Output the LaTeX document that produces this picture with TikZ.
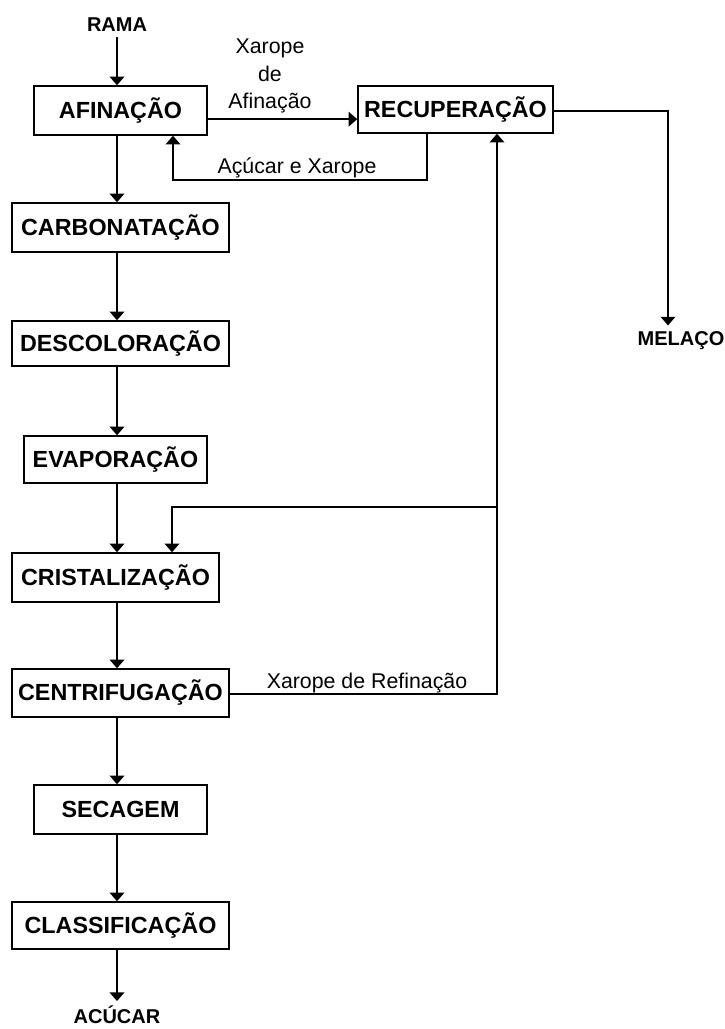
\documentclass[tikz,border=0pt]{standalone}
\usepackage{fontspec}
\setmainfont{Liberation Sans}
\usepackage{tikz}
\usetikzlibrary{arrows.meta,positioning,calc}
\tikzstyle{etapa} = [draw, line width=1.1pt, inner sep=0pt, font=\bfseries\fontsize{17.5}{20}\selectfont]
\tikzstyle{marco} = [inner sep=4pt, font=\bfseries\fontsize{15}{18}\selectfont]
\tikzstyle{rotulo} = [inner sep=0pt, font=\fontsize{16}{20.5}\selectfont]
\tikzstyle{line} = [draw, line width=1.1pt, -{Triangle[width=11pt,length=6.5pt]}]

\begin{document}
\begin{tikzpicture}[x=0.75pt,y=-0.75pt]
	\useasboundingbox (0,0) rectangle (725,1029);
	% Steps:
	\node[etapa, minimum width=129.75pt, minimum height=36.75pt] (afin) at (120.5,110.5) {AFINAÇÃO};
	\node[etapa, minimum width=146.25pt, minimum height=35.25pt] (recup) at (455.5,109.5) {RECUPERAÇÃO};
	\node[etapa, minimum width=162.75pt, minimum height=36.75pt] (carb) at (120.5,227.5) {CARBONATAÇÃO};
	\node[etapa, minimum width=162.75pt, minimum height=33.75pt] (desc) at (120.5,343.5) {DESCOLORAÇÃO};
	\node[etapa, minimum width=137.25pt, minimum height=35.25pt] (evap) at (115.5,459.5) {EVAPORAÇÃO};
	\node[etapa, minimum width=155.25pt, minimum height=36.75pt] (crist) at (115.5,577.5) {CRISTALIZAÇÃO};
	\node[etapa, minimum width=162.75pt, minimum height=36pt] (centr) at (120.5,693) {CENTRIFUGAÇÃO};
	\node[etapa, minimum width=129.75pt, minimum height=36.75pt] (sec) at (120.5,809.5) {SECAGEM};
	\node[etapa, minimum width=162.75pt, minimum height=35.25pt] (class) at (120.5,925.5) {CLASSIFICAÇÃO};
	% In and out:
	\node[marco, anchor=base] (rama) at (117,31) {RAMA};
	\node[marco, anchor=base] (melaco) at (681,345) {MELAÇO};
	\node[marco, anchor=base, inner sep=3pt] (acucar) at (117,1023) {ACÚCAR};
	% Main line:
	\draw[line] (rama.south) -- (afin.north -| rama);
	\draw[line] (afin.south -| rama) -- (carb.north -| rama);
	\draw[line] (carb.south -| rama) -- (desc.north -| rama);
	\draw[line] (desc.south -| rama) -- (evap.north -| rama);
	\draw[line] (evap.south -| rama) -- (crist.north -| rama);
	\draw[line] (crist.south -| rama) -- (centr.north -| rama);
	\draw[line] (centr.south -| rama) -- (sec.north -| rama);
	\draw[line] (sec.south -| rama) -- (class.north -| rama);
	\draw[line] (class.south -| rama) -- (acucar.north);
	% Syrups:
	\coordinate (ret) at (427,180);
	\coordinate (retafin) at (173,180);
	\coordinate (ref) at (497,694);
	\coordinate (cri) at (172,507);
	\coordinate (mel) at (668,111);
	\draw[line] ([yshift=-6.5pt]afin.east) -- ([yshift=-6.5pt]afin.east -| recup.west);
	\draw[line] (recup.south -| ret) -- (ret) -- (retafin) -- (afin.south -| retafin);
	\draw[line] (recup.east |- mel) -- (mel) -- (mel |- melaco.north);
	\draw[line] (centr.east |- ref) -- (ref) -- (recup.south -| ref);
	\draw[line] (ref |- cri) -- (cri) -- (crist.north -| cri);
	% Labels:
	\node[rotulo, align=center] (xafin) at (270,76) {Xarope\\de\\Afinação};
	\node[rotulo, anchor=base] (acxar) at (297,173) {Açúcar e Xarope};
	\node[rotulo, anchor=base] (xref) at (367,688) {Xarope de Refinação};
\end{tikzpicture}
\end{document}
